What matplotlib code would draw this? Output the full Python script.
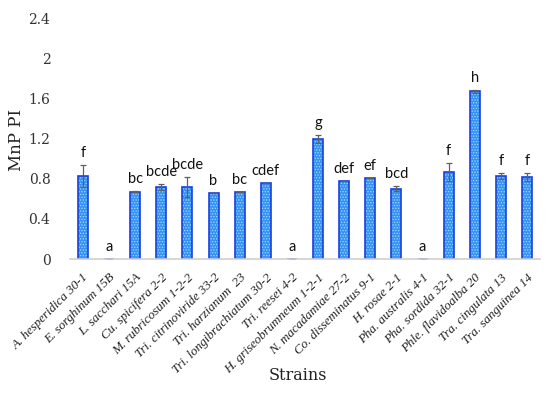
import numpy as np
import matplotlib.pyplot as plt

strains = ["A. hesperidica 30-1", "E. sorghinum 15B", "L. sacchari 15A", "Cu. spicifera 2-2",
           "M. rubricosum 1-2-2", "Tri. citrinoviride 33-2", "Tri. harzianum  23",
           "Tri. longibrachiatum 30-2", "Tri. reesei 4-2", "H. griseobrumneum 1-2-1",
           "N. macadamiae 27-2", "Co. disseminatus 9-1", "H. rosae 2-1", "Pha. australis 4-1",
           "Pha. sordida 32-1", "Phle. flavidoalba 20", "Tra. cingulata 13", "Tra. sanguinea 14"]
mnp_pi = [0.83, 0.005, 0.67, 0.72, 0.72, 0.66, 0.67, 0.76, 0.0, 1.20,
          0.78, 0.81, 0.70, 0.0, 0.87, 1.67, 0.83, 0.82]
err = [0.11, 0.0, 0.005, 0.03, 0.10, 0.0, 0.0, 0.0, 0.0, 0.04,
       0.0, 0.0, 0.025, 0.0, 0.09, 0.015, 0.03, 0.04]
letters = ["f", "a", "bc", "bcde", "bcde", "b", "bc", "cdef", "a", "g",
           "def", "ef", "bcd", "a", "f", "h", "f", "f"]

plt.rcParams["hatch.linewidth"] = 0.6

fig = plt.figure(figsize=(5.5, 3.95), dpi=100)
ax = fig.add_axes([0.127, 0.344, 0.855, 0.61])

x = np.arange(len(strains))
w = 0.38
ax.bar(x, mnp_pi, width=w, color="#3393f2", edgecolor="#a8d6ff", hatch="......", linewidth=0)
ax.bar(x, mnp_pi, width=w, color="none", edgecolor="#1a3fe0", linewidth=1.2)
ax.errorbar(x, mnp_pi, yerr=err, fmt="none", ecolor="#606060", elinewidth=0.9,
            capsize=2.5, capthick=0.9)

for xi, v, e, lab in zip(x, mnp_pi, err, letters):
    ax.text(xi, v + e + 0.05, lab, ha="center", va="bottom", fontsize=10.5,
            family="Lato", color="#111111")

ax.set_xlim(-0.5, len(strains) - 0.5)
ax.set_ylim(0, 2.4)
ax.set_yticks(np.arange(0, 2.41, 0.4))
ax.set_yticklabels(["0", "0.4", "0.8", "1.2", "1.6", "2", "2.4"],
                   family="DejaVu Serif", fontsize=10, color="#333333")
ax.set_xticks(x)
ax.set_xticklabels(strains, rotation=45, ha="right", rotation_mode="anchor",
                   family="Liberation Serif", style="italic", fontsize=9.4, color="#222222")
ax.tick_params(axis="both", length=0)
ax.tick_params(axis="x", pad=9)
ax.tick_params(axis="y", pad=14)

for s in ["left", "right", "top"]:
    ax.spines[s].set_visible(False)
ax.spines["bottom"].set_color("#d0d0d0")
ax.spines["bottom"].set_linewidth(1.2)

fig.text(0.03, 0.645, "MnP PI", family="DejaVu Serif", fontsize=12, rotation=90,
         ha="center", va="center", color="#222222")
fig.text(0.542, 0.038, "Strains", family="DejaVu Serif", fontsize=11.5, ha="center",
         color="#222222")

fig.savefig("out.png", dpi=100)
